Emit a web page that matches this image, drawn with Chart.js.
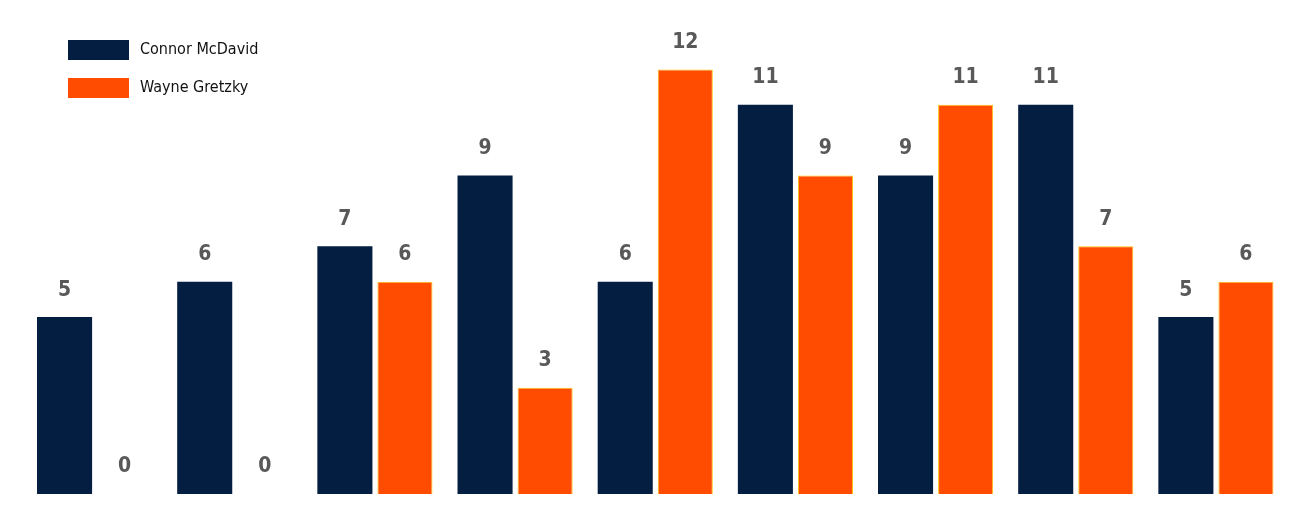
<!DOCTYPE html>
<html><head><meta charset="utf-8">
<script src="https://cdn.jsdelivr.net/npm/chart.js@4"></script>
<style>html,body{margin:0;padding:0;background:#fff;}canvas{display:block;}</style>
</head><body>
<canvas id="c" width="1293" height="513"></canvas>
<script>
const categories = ["1","2","3","4","5","6","7","8","9"];
const mcdavid = [5,6,7,9,6,11,9,11,5];
const gretzky = [0,0,6,3,12,9,11,7,6];
const seriesNames = ["Connor McDavid","Wayne Gretzky"];

const labelPlugin = {
  id: 'labels',
  afterDatasetsDraw(chart) {
    const ctx = chart.ctx;
    ctx.save();
    ctx.font = 'bold 21px "DejaVu Sans Condensed", "DejaVu Sans"';
    ctx.fillStyle = '#595959';
    ctx.textAlign = 'center';
    ctx.textBaseline = 'middle';
    chart.data.datasets.forEach((ds, i) => {
      chart.getDatasetMeta(i).data.forEach((bar, j) => {
        ctx.fillText(String(ds.data[j]), bar.x, bar.y - 27);
      });
    });
    // legend
    const ly = [40, 78];
    chart.data.datasets.forEach((ds, i) => {
      ctx.fillStyle = ds.backgroundColor;
      ctx.fillRect(68, ly[i], 61, 20);
      ctx.fillStyle = '#111';
      ctx.textAlign = 'left';
      ctx.font = '16px "DejaVu Sans Condensed", "DejaVu Sans"';
      ctx.fillText(ds.label, 140, ly[i] + 10);
    });
    ctx.restore();
  }
};

new Chart(document.getElementById('c'), {
  type: 'bar',
  data: {
    labels: categories,
    datasets: [
      { label: seriesNames[0], data: mcdavid, backgroundColor: '#041E42', borderWidth: 0 },
      { label: seriesNames[1], data: gretzky, backgroundColor: '#FF4C00', borderColor: '#FFC20E', borderWidth: 1 }
    ]
  },
  options: {
    responsive: false,
    animation: false,
    layout: { padding: { top: 34, bottom: 19, left: 24.5, right: 7 } },
    datasets: { bar: { categoryPercentage: 0.857, barPercentage: 0.917 } },
    plugins: { legend: { display: false }, tooltip: { enabled: false } },
    scales: {
      x: { display: false },
      y: { display: false, min: 0, max: 13 }
    }
  },
  plugins: [labelPlugin]
});
</script>
</body></html>
